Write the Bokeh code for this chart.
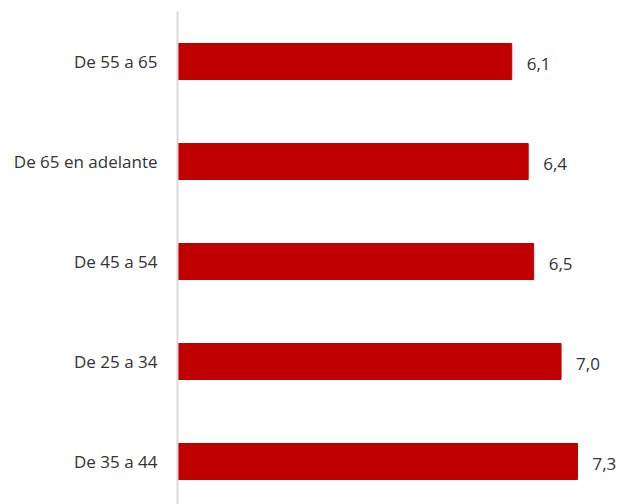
from bokeh.plotting import figure
from bokeh.models import ColumnDataSource, Range1d, FixedTicker
from bokeh.embed import file_html
from bokeh.resources import INLINE
from bokeh.core.properties import value

categories = ["De 55 a 65", "De 65 en adelante", "De 45 a 54", "De 25 a 34", "De 35 a 44"]
values = [6.1, 6.4, 6.5, 7.0, 7.3]

n = len(categories)
ypos = [n - 1 - i for i in range(n)]
labels = [f"{v:.1f}".replace(".", ",") for v in values]

src = ColumnDataSource(dict(y=ypos, v=values, lab=labels))

FONT = "Open Sans"
TXT = "#333333"

p = figure(width=617, height=504, output_backend="svg", toolbar_location=None,
           x_range=Range1d(0, 8.03), y_range=Range1d(-0.43, n - 0.5),
           min_border_left=177, min_border_right=0, min_border_top=11, min_border_bottom=0)
p.outline_line_color = None
p.xgrid.visible = False
p.ygrid.visible = False
p.xaxis.visible = False

p.hbar(y="y", right="v", left=0, height=0.36, color="#C00000", source=src)
p.text(x="v", y="y", text="lab", source=src, x_offset=15, y_offset=2,
       text_align="left", text_baseline="middle",
       text_font=value(FONT), text_font_size="17px", text_color=TXT)

ya = p.yaxis[0]
ya.ticker = FixedTicker(ticks=ypos)
ya.major_label_overrides = {y: c for y, c in zip(ypos, categories)}
ya.major_tick_line_color = None
ya.minor_tick_line_color = None
ya.axis_line_color = "#d9d9d9"
ya.axis_line_width = 2
ya.major_label_standoff = 14
ya.major_label_text_font = FONT
ya.major_label_text_font_size = "17px"
ya.major_label_text_color = TXT

open("out.html", "w").write(file_html(p, INLINE))
